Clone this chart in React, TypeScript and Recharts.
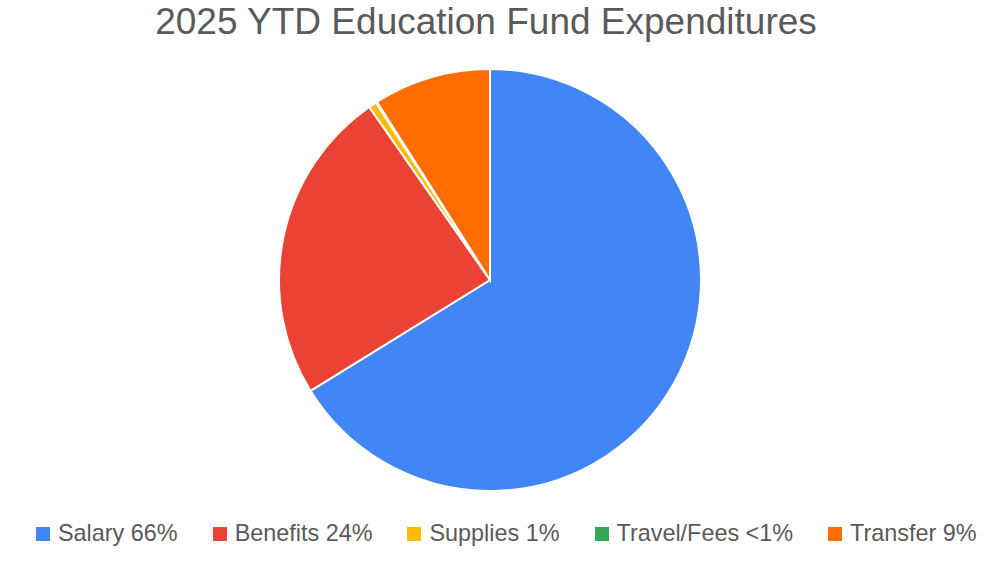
import React from "react";
import { PieChart, Pie, Cell, Legend } from "recharts";

const categories = ["Salary", "Benefits", "Supplies", "Travel/Fees", "Transfer"];
const values = [66.2, 24.1, 0.6, 0.1, 9.0];
const legendLabels = ["Salary 66%", "Benefits 24%", "Supplies 1%", "Travel/Fees <1%", "Transfer 9%"];
const colors = ["#4285F4", "#EA4335", "#FBBC04", "#34A853", "#FF6D01"];

const data = categories.map((name, i) => ({ name, value: values[i], label: legendLabels[i] }));

const renderLegend = () => (
  <div
    style={{
      display: "flex",
      flexDirection: "row",
      alignItems: "center",
      fontFamily: "'Liberation Sans', Arial, sans-serif",
      fontSize: 23.4,
      color: "#5a5a5a",
      whiteSpace: "nowrap",
    }}
  >
    {data.map((d, i) => (
      <div key={d.name} style={{ display: "flex", alignItems: "center", marginRight: i < data.length - 1 ? 35 : 0 }}>
        <span style={{ display: "inline-block", width: 14, height: 14, background: colors[i], marginRight: 8 }} />
        <span>{d.label}</span>
      </div>
    ))}
  </div>
);

export default function App() {
  return (
    <div style={{ position: "absolute", left: 0, top: 0, width: 1008, height: 568, background: "#fff" }}>
      <div
        style={{
          position: "absolute",
          left: 0,
          top: 0,
          width: 972,
          textAlign: "center",
          fontFamily: "'Liberation Sans', Arial, sans-serif",
          fontSize: 37,
          lineHeight: "44px",
          color: "#5a5a5a",
        }}
      >
        2025 YTD Education Fund Expenditures
      </div>
      <PieChart width={1008} height={568} margin={{ top: 0, right: 0, bottom: 0, left: 0 }}>
        <Pie
          data={data}
          dataKey="value"
          nameKey="name"
          cx={490}
          cy={280}
          outerRadius={211}
          startAngle={90}
          endAngle={-270}
          stroke="#ffffff"
          strokeWidth={2}
          isAnimationActive={false}
        >
          {data.map((d, i) => (
            <Cell key={d.name} fill={colors[i]} />
          ))}
        </Pie>
        <Legend
          content={renderLegend}
          wrapperStyle={{ position: "absolute", left: 36, top: 520, width: "auto" }}
        />
      </PieChart>
    </div>
  );
}
